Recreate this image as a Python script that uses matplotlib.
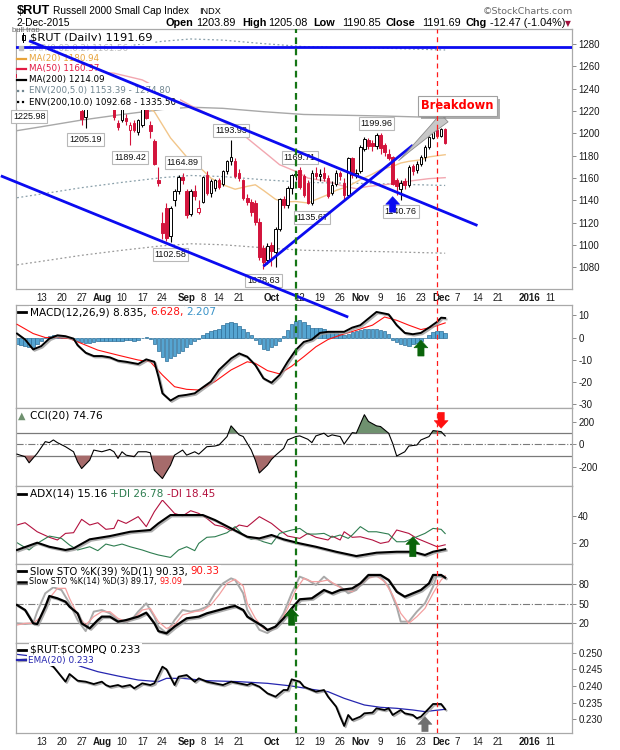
import numpy as np
import pandas as pd
import matplotlib
matplotlib.use("Agg")
import matplotlib.pyplot as plt
import matplotlib.patheffects as pe
from matplotlib.lines import Line2D
from matplotlib.patches import Rectangle
from matplotlib.ticker import FormatStrFormatter
from matplotlib.transforms import Affine2D

plt.rcParams['font.family'] = ['Liberation Sans', 'DejaVu Sans']
plt.rcParams['axes.unicode_minus'] = False
WIDE = ['DejaVu Sans']

W, H = 620, 750
RED = '#d3143c'

###################################################
# Data
###################################################

holidays = ['2015-07-03', '2015-09-07', '2015-11-26', '2015-12-25', '2016-01-01']
sessions = pd.bdate_range('2015-06-22', '2016-01-29')
sessions = sessions[~sessions.isin(pd.to_datetime(holidays))]
days = [d.strftime('%Y-%m-%d') for d in sessions]
bar_days = [d for d in days if '2015-07-02' <= d <= '2015-12-02']

# daily candles, 2 Jul - 2 Dec 2015
opens = [1253, 1243, 1245, 1240, 1234, 1236, 1245, 1256, 1256, 1250, 1254, 1251, 1245, 1240, 1237, 1230, 1220, 1215, 1229, 1233, 1237,
         1237, 1228, 1228, 1223, 1209, 1212, 1214, 1203, 1209, 1201, 1208, 1222, 1208, 1193, 1158, 1120, 1133, 1108, 1140, 1148, 1161,
         1148, 1128, 1148, 1130, 1139, 1163, 1147, 1151, 1158, 1155, 1166, 1175, 1175, 1165, 1158, 1142, 1139, 1138, 1121, 1097, 1087,
         1100, 1094, 1114, 1141, 1136, 1151, 1163, 1167, 1162, 1156, 1138, 1165, 1162, 1165, 1160, 1147, 1155, 1165, 1156, 1145, 1178, 1163,
         1166, 1186, 1194, 1191, 1189, 1199, 1190, 1182, 1179, 1158, 1150, 1157, 1154, 1171, 1167, 1173, 1179, 1188, 1196, 1203,
         1198, 1203.89]
highs = [1256, 1249, 1250, 1242, 1240, 1245, 1258, 1259, 1258, 1256, 1255, 1254, 1248, 1242, 1240, 1232, 1224, 1231, 1236, 1238, 1241,
         1239, 1232, 1236, 1226, 1212, 1225, 1217, 1210, 1212, 1213, 1223, 1224, 1211, 1195, 1170, 1130, 1138, 1135, 1150, 1163, 1164.89,
         1150, 1150, 1154, 1140, 1162, 1166, 1159, 1159, 1160, 1167, 1176, 1193.93, 1178, 1168, 1159, 1146, 1141, 1140, 1124, 1100, 1102,
         1103, 1116, 1142, 1144, 1153, 1164, 1166, 1169.71, 1164, 1158, 1167, 1170, 1168, 1170, 1163, 1157, 1167, 1166, 1160, 1179, 1179, 1168,
         1190, 1197, 1196, 1194, 1199.96, 1200, 1191, 1186, 1180, 1160, 1158, 1160, 1172, 1173, 1175, 1181, 1190, 1198, 1204, 1205,
         1205, 1205.08]
lows = [1248, 1238, 1232, 1225.98, 1228, 1233, 1244, 1252, 1245, 1248, 1246, 1243, 1238, 1233, 1226, 1224, 1208, 1205.19, 1227, 1228, 1232,
        1226, 1224, 1226, 1212, 1203, 1210, 1208, 1189.42, 1201, 1199, 1206, 1213, 1196, 1172, 1153, 1105, 1104, 1102.58, 1135, 1146, 1155,
        1124, 1126, 1140, 1128, 1138, 1145, 1143, 1148, 1150, 1153, 1164, 1172, 1160, 1157, 1140, 1136, 1126, 1118, 1087, 1078.63, 1083,
        1081, 1080, 1113, 1133, 1133, 1146, 1158, 1150, 1143, 1137, 1135.67, 1159, 1157, 1157, 1142, 1145, 1153, 1158, 1140, 1143, 1160, 1160,
        1165, 1184, 1186, 1184, 1186, 1182, 1180, 1176, 1154, 1145, 1140.76, 1150, 1152, 1163, 1165, 1171, 1175, 1186, 1195, 1196,
        1197, 1190.85]
closes = [1251, 1245, 1247, 1227, 1230, 1240, 1257, 1256, 1246, 1255, 1250, 1246, 1243, 1236, 1228, 1225, 1213, 1229, 1234, 1236, 1238,
          1229, 1226, 1232, 1215, 1206, 1223, 1211, 1208, 1203, 1212, 1222, 1214, 1202, 1173, 1156, 1111, 1106, 1133, 1148, 1161, 1158,
          1127, 1148, 1144, 1133, 1161, 1147, 1157, 1158, 1152, 1166, 1175, 1179, 1162, 1160, 1142, 1139, 1130, 1121, 1089, 1085, 1099,
          1095, 1114, 1141, 1136, 1151, 1163, 1164, 1152, 1145, 1138, 1165, 1162, 1164, 1160, 1144, 1154, 1165, 1162, 1145, 1178, 1163, 1165,
          1188, 1195, 1189, 1188.5, 1199, 1187, 1183, 1178, 1155, 1153, 1156, 1154, 1170, 1166, 1173, 1179, 1188, 1197, 1203, 1198,
          1204, 1191.69]

# overlays (date, value)
ma20 = [('07-02', 1255), ('07-13', 1252), ('07-20', 1250), ('07-27', 1247), ('08-03', 1245), ('08-10', 1237),
        ('08-14', 1229), ('08-20', 1219.5), ('08-26', 1196), ('09-01', 1179), ('09-08', 1167), ('09-10', 1160),
        ('09-15', 1154), ('09-18', 1150), ('09-23', 1152.6), ('09-25', 1154), ('09-29', 1149), ('10-02', 1141),
        ('10-06', 1138.6), ('10-09', 1139), ('10-14', 1137.7), ('10-16', 1140.7), ('10-21', 1145.2), ('10-23', 1149),
        ('10-28', 1152.6), ('11-02', 1158.6), ('11-05', 1163.6), ('11-09', 1167.5), ('11-12', 1170.5), ('11-16', 1173.5),
        ('11-18', 1175), ('11-23', 1176.4), ('11-25', 1179), ('12-02', 1180.94)]
ma50 = [('07-02', 1258), ('07-20', 1257), ('07-29', 1256), ('08-06', 1254), ('08-17', 1248), ('08-27', 1233),
        ('09-02', 1225), ('09-09', 1218), ('09-15', 1210.7), ('09-21', 1201.7), ('09-25', 1189.8), ('09-30', 1181),
        ('10-05', 1172), ('10-09', 1166), ('10-14', 1160), ('10-21', 1157), ('10-27', 1152.6), ('10-30', 1150.5),
        ('11-04', 1152.6), ('11-10', 1154), ('11-13', 1155.6), ('11-19', 1157.7), ('11-25', 1159.5), ('12-02', 1160.37)]
ma200 = [('07-02', 1202.5), ('07-13', 1206), ('07-27', 1212), ('08-10', 1217), ('08-24', 1221.5), ('09-02', 1223.5),
         ('09-15', 1222.5), ('09-29', 1219.5), ('10-13', 1217), ('10-27', 1216.3), ('11-10', 1215.6), ('11-24', 1214.6),
         ('12-02', 1214.09)]

macd_line = [('07-02', 1.8), ('07-07', -0.9), ('07-09', -5.4), ('07-13', -3.9), ('07-15', -0.5), ('07-17', 1.0),
             ('07-21', 0.6), ('07-23', -0.5), ('07-24', -3.5), ('07-28', -6.9), ('07-30', -8.4), ('08-03', -8.4),
             ('08-05', -9.0), ('08-07', -10.5), ('08-11', -11.0), ('08-14', -12.0), ('08-18', -9.9), ('08-20', -11.0),
             ('08-21', -17.7), ('08-24', -25.3), ('08-26', -28.6), ('08-28', -26.5), ('09-01', -26.0), ('09-03', -25.3),
             ('09-08', -22.6), ('09-10', -20.0), ('09-14', -14.7), ('09-17', -9.5), ('09-21', -7.2), ('09-23', -8.7),
             ('09-25', -12.5), ('09-29', -18.5), ('10-01', -20.5), ('10-05', -17.0), ('10-07', -11.0), ('10-09', -5.7),
             ('10-13', -2.0), ('10-15', -0.9), ('10-19', 2.1), ('10-21', 2.6), ('10-23', 2.6), ('10-27', 2.6),
             ('10-29', 4.5), ('11-02', 5.6), ('11-04', 8.6), ('11-06', 11.6), ('11-11', 10.5), ('11-13', 5.6),
             ('11-17', 2.1), ('11-19', 1.5), ('11-23', 2.1), ('11-25', 4.5), ('11-30', 7.1), ('12-01', 9.0), ('12-02', 8.835)]
macd_signal = [('07-02', 6.0), ('07-09', 1.8), ('07-14', 0.0), ('07-17', 0.0), ('07-22', -0.5), ('07-27', -2.7),
               ('07-31', -5.7), ('08-07', -8.0), ('08-14', -10.2), ('08-19', -11.0), ('08-24', -17.0), ('08-27', -22.3),
               ('09-01', -23.5), ('09-04', -23.8), ('09-11', -20.0), ('09-17', -14.7), ('09-23', -11.0), ('09-25', -11.7),
               ('09-30', -15.0), ('10-05', -16.5), ('10-08', -13.0), ('10-13', -8.7), ('10-16', -4.2), ('10-21', -0.9),
               ('10-26', 1.05), ('10-30', 3.3), ('11-05', 5.6), ('11-10', 9.3), ('11-13', 7.8), ('11-18', 5.6),
               ('11-23', 3.6), ('11-27', 4.8), ('12-02', 6.628)]
# one histogram bar per session
macd_hist = [-3, -3.5, -4, -4.5, -4.5, -3, -1.5, 0.2, 0.8, 1.2,
             1.3, 1.0, 0.5, -0.2, -0.8, -1.5, -2.2, -2.4, -2.3, -2.0,
             -1.8, -1.5, -1.4, -1.5, -1.7, -1.8, -1.5, -1.2, -1.3, -1.5,
             -1.0, -0.3, 0.2, -0.5, -3, -6, -9, -10.5, -9.5, -8.5,
             -7, -6, -4.5, -3, -1.5, -0.5, 1.3, 2, 3, 3.5,
             4, 5.5, 6.5, 7, 6.5, 5, 3.8, 2.5, 1, -1,
             -3, -5, -5.5, -4.5, -3.5, -1.5, 0.8, 3.5, 6, 7.5,
             7.8, 7, 5.5, 4.5, 4.5, 4.5, 4, 3, 2.5, 2,
             1.5, 1, 1.8, 2.5, 3, 3.5, 3.8, 3.8, 3.8, 4,
             3.5, 3, 1.5, -1, -2, -3, -3.5, -4, -3, -2.5,
             -1.5, 0, 1, 2.5, 3, 3, 2.207]

cci = [('07-02', -87), ('07-07', -110), ('07-08', -164), ('07-10', -80), ('07-14', 24), ('07-15', 15), ('07-16', 39),
       ('07-17', 15), ('07-21', -21), ('07-23', -66), ('07-24', -155), ('07-27', -215), ('07-29', -140), ('07-30', -51),
       ('08-03', -66), ('08-05', -45), ('08-06', -66), ('08-07', -125), ('08-10', -66), ('08-11', -96), ('08-13', -110),
       ('08-14', -66), ('08-18', -66), ('08-19', -75), ('08-20', -230), ('08-24', -304), ('08-26', -185), ('08-27', -96),
       ('08-31', -51), ('09-01', -96), ('09-03', -66), ('09-04', -87), ('09-09', -21), ('09-11', -15), ('09-14', -6),
       ('09-16', 69), ('09-17', 164), ('09-21', 84), ('09-22', 69), ('09-24', -51), ('09-25', -140), ('09-28', -254),
       ('09-30', -185), ('10-01', -134), ('10-02', -98), ('10-06', -36), ('10-07', 39), ('10-09', 69), ('10-12', 75),
       ('10-14', 45), ('10-15', 15), ('10-16', 75), ('10-20', 99), ('10-21', 69), ('10-22', 84), ('10-26', 69),
       ('10-27', 3), ('10-29', 104), ('10-30', 99), ('11-03', 263), ('11-04', 203), ('11-06', 164), ('11-09', 158),
       ('11-11', 99), ('11-12', 9), ('11-13', -104), ('11-17', -66), ('11-18', -15), ('11-20', -6), ('11-23', 39),
       ('11-25', 69), ('11-27', 122), ('12-01', 113), ('12-02', 74.76)]

adx = [('07-02', 14.6), ('07-10', 20), ('07-15', 17), ('07-21', 14.6), ('07-23', 15.8), ('07-29', 22.5), ('08-05', 24.9),
       ('08-12', 28.1), ('08-19', 29.4), ('08-21', 34.3), ('08-26', 40.5), ('09-01', 40.5), ('09-08', 40.5), ('09-11', 36.8),
       ('09-17', 30.6), ('09-23', 24.4), ('09-28', 23.2), ('10-01', 25.7), ('10-06', 22.5), ('10-12', 19.5), ('10-16', 17),
       ('10-23', 13.3), ('10-30', 10.1), ('11-06', 12.6), ('11-13', 13.3), ('11-19', 13.3), ('11-24', 10.9), ('11-27', 13.3),
       ('12-02', 15.16)]
plus_di = [('07-02', 20), ('07-08', 14.6), ('07-10', 19.5), ('07-15', 24.9), ('07-20', 23.2), ('07-22', 18.3), ('07-24', 14.6),
           ('07-29', 17), ('07-31', 14.1), ('08-04', 19), ('08-06', 17.5), ('08-10', 19), ('08-12', 17), ('08-17', 14.6),
           ('08-19', 12.6), ('08-21', 10.9), ('08-26', 9.1), ('08-28', 14.6), ('09-01', 17), ('09-03', 14.1), ('09-04', 19.5),
           ('09-09', 24), ('09-11', 24.4), ('09-16', 27.4), ('09-18', 31.9), ('09-22', 25.7), ('09-24', 22.5), ('09-25', 23.2),
           ('09-29', 20.7), ('10-01', 19), ('10-05', 26.9), ('10-08', 29.4), ('10-12', 30.6), ('10-14', 26.4), ('10-16', 26.4),
           ('10-20', 26.9), ('10-22', 24), ('10-26', 25.7), ('10-28', 23.2), ('10-29', 25.7), ('11-02', 31.9), ('11-04', 28.1),
           ('11-06', 28.1), ('11-11', 26.4), ('11-13', 20.7), ('11-17', 20.7), ('11-20', 24.4), ('11-24', 26.9), ('11-27', 30.6),
           ('12-01', 29.9), ('12-02', 26.78)]
minus_di = [('07-02', 33.1), ('07-07', 34.8), ('07-10', 28.1), ('07-15', 24), ('07-17', 22), ('07-21', 26.9), ('07-23', 27.4),
            ('07-27', 37.3), ('07-29', 33.1), ('07-31', 34.8), ('08-04', 29.9), ('08-06', 30.6), ('08-07', 36.8), ('08-11', 34.3),
            ('08-14', 39.3), ('08-18', 31.9), ('08-20', 43), ('08-24', 51.6), ('08-27', 41.7), ('08-31', 39.8), ('09-02', 43.7),
            ('09-04', 41.7), ('09-09', 38), ('09-11', 33.1), ('09-15', 31.9), ('09-17', 28.9), ('09-21', 33.1), ('09-23', 31.9),
            ('09-24', 34.3), ('09-28', 39.3), ('10-01', 34.3), ('10-05', 29.4), ('10-07', 24.9), ('10-12', 23.2), ('10-14', 26.9),
            ('10-16', 24), ('10-21', 22), ('10-22', 24.9), ('10-26', 22), ('10-27', 28.1), ('10-29', 24), ('11-02', 24.4),
            ('11-05', 22), ('11-09', 19.5), ('11-11', 20.7), ('11-13', 29.4), ('11-18', 26.9), ('11-20', 23.2), ('11-25', 19.5),
            ('11-30', 17), ('12-02', 18.45)]

sto_k39 = [('07-02', 48.2), ('07-07', 40.5), ('07-09', 20), ('07-10', 19), ('07-14', 45.6), ('07-15', 62), ('07-17', 58.5),
           ('07-21', 53.3), ('07-22', 45.6), ('07-24', 35.4), ('07-27', 20), ('07-29', 12.3), ('07-31', 25), ('08-03', 30.3),
           ('08-05', 30.3), ('08-07', 22.6), ('08-11', 25), ('08-14', 30.3), ('08-18', 36.4), ('08-20', 20), ('08-21', 8),
           ('08-25', 4.6), ('08-27', 15), ('09-01', 27.7), ('09-04', 30.3), ('09-09', 35.4), ('09-14', 40.5), ('09-17', 45.6),
           ('09-18', 46.7), ('09-22', 40.5), ('09-23', 30.3), ('09-25', 22.6), ('09-29', 15), ('09-30', 9.7), ('10-02', 15),
           ('10-06', 27.7), ('10-08', 43), ('10-12', 57), ('10-15', 58.5), ('10-20', 71.3), ('10-22', 66.2), ('10-26', 71.3),
           ('10-29', 73.8), ('11-02', 81.5), ('11-04', 94.4), ('11-09', 94.4), ('11-11', 86.7), ('11-13', 68.7), ('11-17', 61),
           ('11-19', 66.2), ('11-23', 71.3), ('11-25', 81.5), ('11-27', 94.4), ('12-01', 94.4), ('12-02', 90.33)]
sto_k14 = [('07-02', 20), ('07-07', 19), ('07-09', 20), ('07-10', 38), ('07-14', 66.2), ('07-16', 75.4), ('07-20', 71.3),
           ('07-22', 50.8), ('07-24', 25), ('07-28', 8), ('07-30', 38), ('08-03', 40.5), ('08-05', 35.4), ('08-07', 25),
           ('08-11', 21), ('08-13', 30.3), ('08-14', 38), ('08-18', 50.8), ('08-20', 30.3), ('08-21', 15), ('08-25', 5),
           ('08-27', 25), ('08-31', 40.5), ('09-02', 38), ('09-04', 40.5), ('09-09', 45.6), ('09-11', 66.2), ('09-15', 81.5),
           ('09-17', 89.2), ('09-18', 86.7), ('09-22', 66.2), ('09-23', 40.5), ('09-25', 20), ('09-28', 10), ('09-30', 5),
           ('10-02', 15), ('10-06', 35.4), ('10-08', 66.2), ('10-12', 91.8), ('10-14', 86.7), ('10-16', 79), ('10-20', 91.8),
           ('10-22', 81.5), ('10-26', 76.4), ('10-28', 66.2), ('10-30', 71.3), ('11-03', 86.7), ('11-05', 94.4), ('11-09', 91.8),
           ('11-11', 76.4), ('11-13', 45.6), ('11-16', 22.6), ('11-18', 22.6), ('11-20', 38), ('11-24', 50.8), ('11-27', 76.4),
           ('11-30', 94.4), ('12-02', 89.17)]
sto_d14 = [('07-02', 17.4), ('07-07', 20), ('07-09', 20), ('07-13', 30.3), ('07-15', 58.5), ('07-17', 73.8), ('07-21', 73.8),
           ('07-22', 58.5), ('07-24', 32.8), ('07-28', 17.4), ('07-30', 30.3), ('08-03', 38), ('08-05', 38), ('08-07', 27.7),
           ('08-11', 22.6), ('08-13', 27.7), ('08-17', 40.5), ('08-19', 43), ('08-21', 22.6), ('08-25', 12), ('08-27', 17.4),
           ('08-31', 32.8), ('09-03', 38), ('09-08', 39.5), ('09-10', 48.2), ('09-14', 63.6), ('09-16', 81.5), ('09-18', 87.7),
           ('09-22', 77.4), ('09-23', 50.8), ('09-25', 27.7), ('09-29', 12), ('10-01', 10), ('10-05', 20), ('10-07', 43),
           ('10-09', 71.3), ('10-13', 89.2), ('10-15', 84.1), ('10-19', 84.1), ('10-21', 86.7), ('10-23', 79), ('10-27', 71.3),
           ('10-29', 68.7), ('11-02', 79), ('11-04', 89.2), ('11-06', 92.8), ('11-10', 84.1), ('11-12', 63.6), ('11-16', 35.4),
           ('11-18', 20), ('11-20', 30.3), ('11-24', 43), ('11-27', 66.2), ('12-01', 86.7), ('12-02', 93.09)]

ratio = [('07-02', 0.2478), ('07-09', 0.2480), ('07-14', 0.2472), ('07-16', 0.2458), ('07-20', 0.2428), ('07-21', 0.2413),
         ('07-22', 0.2436), ('07-24', 0.2416), ('07-28', 0.2413), ('07-30', 0.2406), ('08-03', 0.2413), ('08-04', 0.2403),
         ('08-05', 0.2398), ('08-07', 0.2403), ('08-10', 0.2398), ('08-12', 0.2403), ('08-13', 0.2393), ('08-17', 0.2408),
         ('08-19', 0.2403), ('08-20', 0.2408), ('08-24', 0.2458), ('08-25', 0.2450), ('08-27', 0.2403), ('08-28', 0.2428),
         ('09-01', 0.2433), ('09-03', 0.2413), ('09-04', 0.2423), ('09-09', 0.2413), ('09-11', 0.2408), ('09-15', 0.2403),
         ('09-17', 0.2413), ('09-21', 0.2408), ('09-23', 0.2403), ('09-24', 0.2408), ('09-28', 0.2398), ('09-30', 0.2378),
         ('10-02', 0.2368), ('10-06', 0.2388), ('10-07', 0.2388), ('10-08', 0.2420), ('10-12', 0.2413), ('10-13', 0.2398),
         ('10-15', 0.2388), ('10-16', 0.2383), ('10-20', 0.2388), ('10-21', 0.2368), ('10-23', 0.2338), ('10-26', 0.2308),
         ('10-27', 0.2280), ('10-28', 0.2313), ('10-29', 0.2298), ('11-02', 0.2308), ('11-03', 0.2318), ('11-05', 0.2320),
         ('11-06', 0.2333), ('11-10', 0.2328), ('11-11', 0.2333), ('11-12', 0.2313), ('11-16', 0.2328), ('11-17', 0.2318),
         ('11-19', 0.2313), ('11-20', 0.2303), ('11-23', 0.2308), ('11-25', 0.2333), ('11-27', 0.2346), ('12-01', 0.2346),
         ('12-02', 0.2330)]
ratio_ema = [('07-02', 0.2495), ('07-16', 0.2482), ('07-22', 0.2472), ('07-27', 0.2458), ('07-31', 0.2443), ('08-07', 0.2430),
             ('08-14', 0.2418), ('08-21', 0.2413), ('08-25', 0.2423), ('08-31', 0.2423), ('09-09', 0.2416), ('09-21', 0.2413),
             ('09-30', 0.2408), ('10-08', 0.2400), ('10-15', 0.2390), ('10-21', 0.2383), ('10-27', 0.2363), ('11-03', 0.2343),
             ('11-09', 0.2336), ('11-13', 0.2333), ('11-19', 0.2328), ('11-24', 0.2323), ('11-27', 0.2326), ('12-02', 0.2330)]

swing_labels = [('07-08', 1225.98, 'lo'), ('07-28', 1205.19, 'lo'), ('08-12', 1189.42, 'lo'), ('08-31', 1164.89, 'hi'),
                ('08-26', 1102.58, 'lo'), ('09-17', 1193.93, 'hi'), ('09-29', 1078.63, 'lo'), ('10-12', 1169.71, 'hi'),
                ('10-15', 1135.67, 'lo'), ('11-06', 1199.96, 'hi'), ('11-16', 1140.76, 'lo')]

trend_lines = [(('07-08', 1283.0), ('12-14', 1117.5)),
               (('06-26', 1162.0), ('10-28', 1035.4)),
               (('09-29', 1081.0), ('11-19', 1189.5))]
resistance = 1277.5

tick_days = ['07-13', '07-20', '07-27', '08-03', '08-10', '08-17', '08-24', '09-01', '09-08', '09-14', '09-21',
             '10-01', '10-12', '10-19', '10-26', '11-02', '11-09', '11-16', '11-23', '12-01', '12-07', '12-14',
             '12-21', '2016-01-04', '2016-01-11']
tick_text = ['13', '20', '27', 'Aug', '10', '17', '24', 'Sep', '8', '14', '21', 'Oct', '12', '19', '26', 'Nov',
             '9', '16', '23', 'Dec', '7', '14', '21', '2016', '11']

###################################################
# Helpers
###################################################

pos = {d: i for i, d in enumerate(days)}


def sx(day):
    return pos[day if day.startswith('20') else '2015-' + day]


def xy(series):
    return np.array([sx(d) for d, v in series], float), np.array([v for d, v in series], float)


fig = plt.figure(figsize=(W / 100, H / 100), dpi=100)
PX = Affine2D().scale(1, -1).translate(0, H)   # pixels from the top-left corner
renderer = fig.canvas.get_renderer()
shadow = [pe.SimpleLineShadow(offset=(1, -1), shadow_color='#9a9a9a', alpha=0.8), pe.Normal()]


def rich(target, x, y, pieces, size, family=WIDE, pad=0.12):
    for s, col in pieces:
        t = target.text(x, y, s, transform=PX, color=col, fontsize=size, family=family,
                        ha='left', va='center', zorder=6,
                        bbox=dict(boxstyle=f'square,pad={pad}', fc='white', ec='none'))
        x += t.get_window_extent(renderer).width + size * 0.42


def icon(y, color, ls='-', lw=2.0, x0=18, x1=26):
    fig.add_artist(Line2D([x0, x1], [y, y], transform=PX, color=color, lw=lw, ls=ls, zorder=7))


def fat_arrow(ax, day, tip, base, color):
    x = sx(day)
    ax.annotate('', xy=(x, tip), xytext=(x, base), annotation_clip=False, zorder=8,
                arrowprops=dict(arrowstyle='simple,head_length=0.55,head_width=1.0,tail_width=0.45',
                                fc=color, ec=color, lw=0.4, mutation_scale=10, shrinkA=0, shrinkB=0))


def panel(top, bottom, z=1):
    ax = fig.add_axes([16 / W, 1 - bottom / H, 556 / W, (bottom - top) / H], zorder=z)
    for s in ax.spines.values():
        s.set_color('#a9a9a9')
        s.set_linewidth(0.9)
    ax.yaxis.tick_right()
    ax.tick_params(axis='y', direction='out', length=3, width=0.7, color='#8a8a8a',
                   labelsize=7, pad=1.5, labelcolor='#1a1a1a')
    ax.tick_params(axis='x', length=0, labelsize=7, pad=2.6, labelcolor='#1a1a1a')
    return ax


ax_p = panel(29, 289, z=3)
ax_m = panel(305, 408.3)
ax_c = panel(408.3, 486)
ax_a = panel(486, 564.3)
ax_s = panel(564.3, 642.7)
ax_r = panel(642.7, 733.3)
panels = [ax_p, ax_m, ax_c, ax_a, ax_s, ax_r]

bx = np.array([pos[d] for d in bar_days], float)
xlim = (bx[0] - 0.25, bx[-1] + 31.4)

###################################################
# Price panel
###################################################

prev = [opens[0]] + closes[:-1]
for x, o, h, l, c, p in zip(bx, opens, highs, lows, closes, prev):
    col = RED if c < p else 'black'
    face = col if c < o else 'white'
    ax_p.vlines(x, l, h, color=col, lw=0.8, zorder=3)
    ax_p.add_patch(Rectangle((x - 0.32, min(o, c)), 0.64, max(abs(c - o), 0.5),
                             fc=face, ec=col, lw=0.7, zorder=4))

x200, v200 = xy(ma200)
ax_p.plot(x200, v200, color='#a8a8a8', lw=1.0, zorder=2)
ax_p.plot(x200, v200 * 1.05, color='#8aa0aa', lw=0.9, ls=(0, (1.5, 2)), zorder=2)
ax_p.plot(x200, v200 * 0.95, color='#8aa0aa', lw=0.9, ls=(0, (1.5, 2)), zorder=2)
ax_p.plot(x200, v200 * 0.90, color='#9a9a9a', lw=0.9, ls=(0, (1.5, 2)), zorder=2)
ax_p.plot(*xy(ma50), color='#f2a7b0', lw=1.0, zorder=2)
ax_p.plot(*xy(ma20), color='#f2c68a', lw=1.0, zorder=2)

for day, val, side in swing_labels:
    ax_p.annotate(f'{val:.2f}', xy=(sx(day), val), xytext=(0, 10 if side == 'hi' else -12),
                  textcoords='offset pixels', ha='center', va='center', fontsize=6.5, color='#111111',
                  bbox=dict(boxstyle='square,pad=0.22', fc='white', ec='#b8b8b8', lw=0.8),
                  zorder=5, annotation_clip=False)

ax_p.axhline(resistance, color='#0b0bf0', lw=2.0, zorder=7)
for (d0, p0), (d1, p1) in trend_lines:
    ax_p.plot([sx(d0), sx(d1)], [p0, p1], color='#0b0bf0', lw=2.0, zorder=7, clip_on=False,
              solid_capstyle='butt')

fat_arrow(ax_p, '11-12', 1143.4, 1129.5, '#0b0bf0')

bd = ax_p.annotate('Breakdown', xy=(sx('11-13'), 1174), xytext=(sx('12-07'), 1225),
                   color='#ff0000', fontsize=8.3, fontweight='bold', family=WIDE, ha='center', va='center',
                   bbox=dict(boxstyle='square,pad=0.3', fc='white', ec='#a0a0a0', lw=0.8),
                   arrowprops=dict(arrowstyle='wedge,tail_width=0.8,shrink_factor=0.4',
                                   fc='#c8c8c8', ec='#8c8c8c', lw=0.6, mutation_scale=10),
                   zorder=9)
bd.get_bbox_patch().set_path_effects([pe.SimplePatchShadow(offset=(2.5, -2.5), shadow_rgbFace='#8a8a8a', alpha=0.7),
                                      pe.Normal()])

ax_p.set_ylim(1060.6, 1293.6)
ax_p.set_yticks(range(1080, 1281, 20))

# legend block of the price panel, on a white ground
ax_p.add_patch(Rectangle((16.5, 33.5), 13, 74, transform=PX, fc='white', ec='none', zorder=5.5, clip_on=False))
ax_p.text(12, 31, 'bull trap', transform=PX, fontsize=5.6, color='#666666', va='center', zorder=5)
ax_p.add_patch(Rectangle((21.5, 35), 3, 5, transform=PX, fc='white', ec='black', lw=0.7, zorder=7, clip_on=False))
fig.add_artist(Line2D([23, 23], [33, 42], transform=PX, color='black', lw=0.7, zorder=6))
rich(ax_p, 30, 38, [('$RUT (Daily) 1191.69', 'black')], 8.2, pad=0.05)
fig.add_artist(Line2D([21], [48], transform=PX, marker='s', ms=2.2, color='#c0c0c0', zorder=7))
rich(ax_p, 29, 48.5, [('SAR(0.02,0.2) 1161.56', '#bdbdbd')], 6.3, pad=0.35)
icon(58.5, '#e8a33a', lw=1.6, x0=17)
rich(ax_p, 29, 58.5, [('MA(20) 1180.94', '#e8a33a')], 6.3, pad=0.4)
icon(69, '#e21a43', lw=1.6, x0=17)
rich(ax_p, 29, 69, [('MA(50) 1160.37', '#e21a43')], 6.3, pad=0.4)
icon(79.5, 'black', lw=1.6, x0=17)
rich(ax_p, 29, 79.5, [('MA(200) 1214.09', 'black')], 6.3, pad=0.4)
icon(91, '#6f8590', ls=(0, (1, 1.2)), lw=1.6, x0=17)
rich(ax_p, 29, 91, [('ENV(200,5.0) 1153.39 - 1274.80', '#6f8590')], 6.3, pad=0.45)
icon(102, 'black', ls=(0, (1, 1.2)), lw=1.6, x0=17)
rich(ax_p, 29, 102, [('ENV(200,10.0) 1092.68 - 1335.50', 'black')], 6.3, pad=0.4)

###################################################
# MACD
###################################################

ax_m.bar(bx, macd_hist, width=0.85, color='#55a5d2', edgecolor='#2d6e98', linewidth=0.5, zorder=2)
ax_m.plot(*xy(macd_signal), color='#ff1010', lw=0.8, zorder=3)
ax_m.plot(*xy(macd_line), color='black', lw=1.4, zorder=4, path_effects=shadow)
fat_arrow(ax_m, '11-23', -1.2, -8.4, '#0a640a')
ax_m.set_ylim(-32.1, 14.75)
ax_m.set_yticks([10, 0, -10, -20, -30])
icon(312.3, 'black')
rich(ax_m, 30, 312.3, [('MACD(12,26,9) 8.835,', 'black'), ('6.628,', '#ff1010'), ('2.207', '#3a93c8')], 7.6)

###################################################
# CCI
###################################################

cx, cy = xy(cci)
ax_c.fill_between(cx, cy, 100, where=cy >= 100, interpolate=True, color='#6f916f', lw=0, zorder=2)
ax_c.fill_between(cx, cy, -100, where=cy <= -100, interpolate=True, color='#a66b6b', lw=0, zorder=2)
ax_c.plot(cx, cy, color='black', lw=0.8, zorder=3)
for lvl in (100, -100):
    ax_c.axhline(lvl, color='#7a7a7a', lw=0.9, zorder=1)
ax_c.axhline(0, color='#7a7a7a', lw=0.8, ls='-.', zorder=1)
fat_arrow(ax_c, '12-01', 143, 284, '#ff1010')
ax_c.set_ylim(-370, 320)
ax_c.set_yticks([200, 0, -200])
ax_c.text(18, 416, '▲', transform=PX, color='#6f916f', fontsize=7, family=WIDE, va='center', zorder=7)
rich(ax_c, 30, 416, [('CCI(20) 74.76', 'black')], 7.6)

###################################################
# ADX
###################################################

ax_a.plot(*xy(minus_di), color='#b3123f', lw=0.8, zorder=2)
ax_a.plot(*xy(plus_di), color='#2e7d50', lw=0.8, zorder=2)
ax_a.plot(*xy(adx), color='black', lw=1.5, zorder=3, path_effects=shadow)
fat_arrow(ax_a, '11-19', 24.4, 9.6, '#0a640a')
ax_a.set_ylim(4, 62)
ax_a.set_yticks([40, 20])
icon(494, 'black')
rich(ax_a, 30, 494, [('ADX(14) 15.16', 'black'), ('+DI 26.78', '#2e7d50'), ('-DI 18.45', '#b3123f')], 7.6)

###################################################
# Slow stochastics
###################################################

for lvl in (80, 20):
    ax_s.axhline(lvl, color='#7a7a7a', lw=0.9, zorder=1)
ax_s.axhline(50, color='#7a7a7a', lw=0.8, ls='-.', zorder=1)
ax_s.plot(*xy(sto_k14), color='#a9a9a9', lw=1.4, zorder=2)
ax_s.plot(*xy(sto_d14), color='#f4a0a0', lw=0.9, zorder=2)
ax_s.plot(*xy(sto_k39), color='black', lw=1.6, zorder=3, path_effects=shadow)
fat_arrow(ax_s, '10-08', 43, 17, '#0a640a')
ax_s.set_ylim(-9.8, 110.8)
ax_s.set_yticks([80, 50, 20])
icon(571, 'black')
rich(ax_s, 30, 571, [('Slow STO %K(39) %D(1) 90.33,', 'black'), ('90.33', '#ff1010')], 7.3)
icon(581.5, 'black', lw=1.8)
rich(ax_s, 29, 581.5, [('Slow STO %K(14) %D(3) 89.17,', 'black'), ('93.09', '#ff1010')], 5.9)

###################################################
# $RUT:$COMPQ
###################################################

ax_r.plot(*xy(ratio_ema), color='#2626b0', lw=0.9, zorder=2)
ax_r.plot(*xy(ratio), color='black', lw=1.3, zorder=3, path_effects=shadow)
fat_arrow(ax_r, '11-24', 0.2308, 0.2263, '#707070')
ax_r.set_ylim(0.2258, 0.253)
ax_r.set_yticks([0.250, 0.245, 0.240, 0.235, 0.230])
ax_r.yaxis.set_major_formatter(FormatStrFormatter('%.3f'))
icon(649.7, 'black')
rich(ax_r, 30, 649.7, [(r'\$RUT:\$COMPQ 0.233', 'black')], 7.6)
icon(660.3, '#2626b0', lw=1.6, x0=17)
rich(ax_r, 28, 660.3, [('EMA(20) 0.233', '#2626b0')], 6.4)

###################################################
# Axes, event lines, header
###################################################

tick_x = [sx(d) for d in tick_days]
for ax in panels:
    ax.set_xlim(*xlim)
    ax.set_xticks(tick_x)
    if ax in (ax_p, ax_r):
        ax.set_xticklabels(tick_text)
        for lab, t in zip(ax.get_xticklabels(), tick_text):
            if not t.isdigit() or len(t) == 4:
                lab.set_fontweight('bold')
    else:
        ax.set_xticklabels([])

ov = fig.add_axes([16 / W, 1 - 733.3 / H, 556 / W, (733.3 - 29) / H], zorder=4)
ov.set_xlim(*xlim)
ov.set_ylim(0, 1)
ov.axis('off')
ov.axvline(sx('10-09'), color='#157515', lw=1.6, ls=(0, (3, 2)))
ov.axvline(sx('11-30'), color='#ff1a1a', lw=0.9, ls=(0, (4, 3)))

fig.text(16.5, 11.5, '$RUT', transform=PX, fontsize=9.2, fontweight='bold', va='center')
fig.text(53, 11.5, 'Russell 2000 Small Cap Index', transform=PX, fontsize=7.3, va='center')
fig.text(199, 11.5, 'INDX', transform=PX, fontsize=6.6, va='center')
fig.text(573, 11, '©StockCharts.com', transform=PX, fontsize=6.8, family=WIDE, color='#6a6a6a',
         ha='right', va='center')
fig.text(16.5, 23.5, '2-Dec-2015', transform=PX, fontsize=7.4, va='center')
for s, x, bold in [('Open', 165, True), ('1203.89', 196, False), ('High', 242, True), ('1205.08', 268, False),
                   ('Low', 313, True), ('1190.85', 342, False), ('Close', 386, True), ('1191.69', 422, False),
                   ('Chg', 466, True), ('-12.47 (-1.04%)', 490, False)]:
    fig.text(x, 23.5, s, transform=PX, fontsize=7.8, fontweight='bold' if bold else 'normal', va='center')
fig.text(565, 24, '▼', transform=PX, fontsize=5.5, family=WIDE, color='#a0103c', va='center')

fig.savefig('out.png', dpi=100)
